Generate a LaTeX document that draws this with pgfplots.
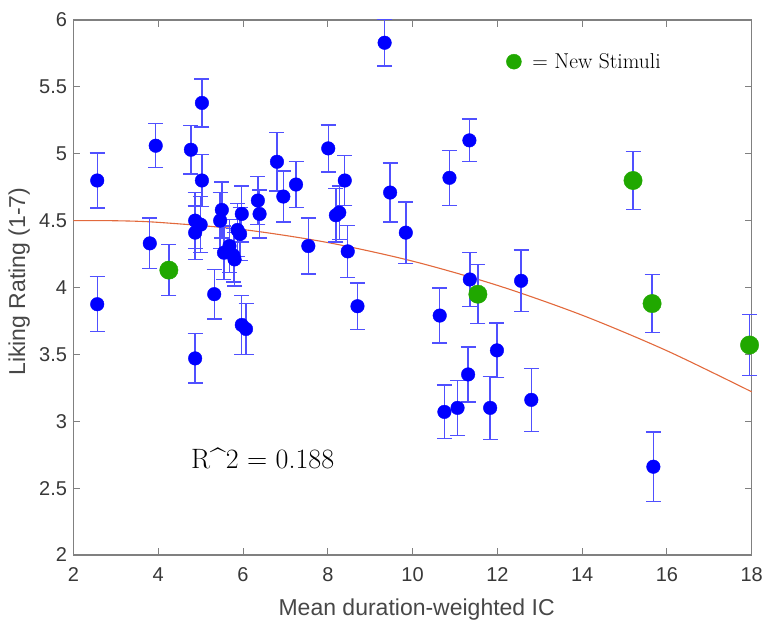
\documentclass[border=0pt]{standalone}
\usepackage{fontspec}
\newfontfamily\arial{Liberation Sans}
\usepackage{pgfplots}
\pgfplotsset{compat=1.18}
\usepackage{pgfplotstable}
\definecolor{mblue}{RGB}{0,0,255}
\definecolor{ebar}{RGB}{80,80,255}
\definecolor{mgreen}{RGB}{32,168,0}
\definecolor{morange}{RGB}{226,105,60}
\pgfplotstableread{
x y e
2.56 4.80 0.205
2.56 3.875 0.205
3.94 5.06 0.165
3.80 4.33 0.19
4.77 5.03 0.18
5.03 5.38 0.18
5.03 4.80 0.195
4.87 4.50 0.21
4.87 4.41 0.20
5.00 4.47 0.21
5.32 3.95 0.185
5.46 4.50 0.21
5.50 4.58 0.21
5.55 4.26 0.20
5.68 4.31 0.20
5.77 4.24 0.20
5.80 4.21 0.20
5.87 4.43 0.20
5.93 4.40 0.20
5.97 4.55 0.21
6.35 4.65 0.18
6.39 4.55 0.18
6.80 4.94 0.22
6.95 4.68 0.19
7.25 4.77 0.17
7.54 4.31 0.21
8.01 5.04 0.175
8.40 4.80 0.185
8.19 4.54 0.20
8.27 4.56 0.20
8.47 4.27 0.195
9.34 5.83 0.175
9.47 4.71 0.22
9.84 4.41 0.23
10.87 4.82 0.205
11.34 5.10 0.16
11.35 4.06 0.20
12.56 4.05 0.23
15.68 2.66 0.26
8.70 3.86 0.175
10.64 3.79 0.205
11.99 3.53 0.205
11.31 3.35 0.205
10.75 3.07 0.20
11.06 3.10 0.205
11.83 3.10 0.235
12.80 3.16 0.235
4.87 3.47 0.185
5.97 3.72 0.22
6.07 3.69 0.19
}\bluedata
\pgfplotstableread{
x y e
4.25 4.13 0.19
11.54 3.95 0.22
15.20 4.80 0.215
15.65 3.88 0.215
17.95 3.57 0.23
}\greendata
\pgfplotstableread{
x y
2 4.500
3 4.499
4 4.487
6 4.433
8 4.336
10 4.197
12 4.016
14 3.793
16 3.527
18 3.220
}\fitdata
\begin{document}
\begin{tikzpicture}
\path[use as bounding box] (-73.5pt,-66pt) rectangle (690.5pt,555pt);
\begin{axis}[
  scale only axis, width=678.2pt, height=535pt,
  xmin=2, xmax=18, ymin=2, ymax=6,
  xtick={2,4,...,18}, ytick={2,2.5,...,6},
  clip=false,
  tick align=inside,
  major tick length=7pt,
  axis line style={black!50, line width=1.2pt},
  tick style={black!50, line width=1pt},
  /pgf/number format/assume math mode=true,
  ticklabel style={font=\arial\fontsize{20}{24}\selectfont, text=black!78},
  yticklabel style={xshift=-3pt},
  xticklabel style={yshift=-9.5pt},
  xlabel={Mean duration-weighted IC},
  ylabel={Liking Rating (1-7)},
  label style={font=\arial\fontsize{23}{28}\selectfont, text=black!72},
  xlabel style={at={(axis description cs:0.506,-0.114)}, anchor=base},
  ylabel style={at={(axis description cs:-0.0715,0.511)}, anchor=base},
  legend style={draw=none, fill=none, at={(0.6336,0.9221)}, anchor=west,
    font=\fontsize{21.5}{26}\selectfont, column sep=9pt},
]
\addlegendimage{only marks, mark=*, mark size=7.5pt, color=mgreen}
\addlegendentry{= New Stimuli}
\addplot[forget plot, morange, line width=1.1pt, smooth, no marks] table[x=x,y=y] {\fitdata};
\addplot[forget plot, only marks, mark=none, draw=ebar, color=ebar,
  error bars/.cd, y dir=both, y explicit, error mark=|,
  error bar style={draw=ebar, line width=1.4pt},
  error mark options={draw=ebar, color=ebar, line width=1.4pt, mark size=7.5pt}]
  table[x=x, y=y, y error=e] {\bluedata};
\addplot[forget plot, only marks, mark=none, draw=ebar, color=ebar,
  error bars/.cd, y dir=both, y explicit, error mark=|,
  error bar style={draw=ebar, line width=1.4pt},
  error mark options={draw=ebar, color=ebar, line width=1.4pt, mark size=7.5pt}]
  table[x=x, y=y, y error=e] {\greendata};
\addplot[forget plot, only marks, mark=*, mark size=6.8pt, color=mblue] table[x=x,y=y] {\bluedata};
\addplot[forget plot, only marks, mark=*, mark size=9.2pt, color=mgreen] table[x=x,y=y] {\greendata};
\node[anchor=base, font=\fontsize{28}{34}\selectfont] at (axis cs:6.463,2.647) {R\textasciicircum 2 = 0.188};
\end{axis}
\end{tikzpicture}
\end{document}
